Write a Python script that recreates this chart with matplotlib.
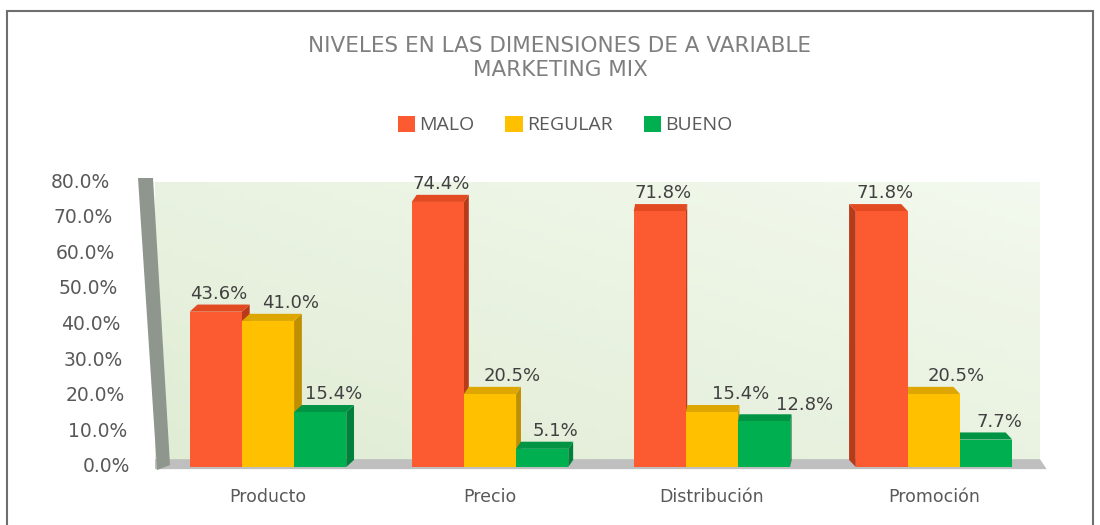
import matplotlib
matplotlib.use("Agg")
import matplotlib.pyplot as plt
import matplotlib.transforms as mtransforms
from matplotlib.patches import Polygon, Rectangle, Patch
import numpy as np

categories = ["Producto", "Precio", "Distribución", "Promoción"]
series_names = ["MALO", "REGULAR", "BUENO"]
malo = [0.436, 0.744, 0.718, 0.718]
regular = [0.410, 0.205, 0.154, 0.205]
bueno = [0.154, 0.051, 0.128, 0.077]
yticks = [0.0, 0.1, 0.2, 0.3, 0.4, 0.5, 0.6, 0.7, 0.8]
title = "NIVELES EN LAS DIMENSIONES DE A VARIABLE\nMARKETING MIX"

front = ["#FC5A30", "#FFC000", "#00B050"]
side = ["#B83A18", "#C08F00", "#00803A"]
top = ["#E24A22", "#DDA600", "#009444"]

W, H = 1100, 525
fig = plt.figure(figsize=(11, 5.25), dpi=100)
fig.patch.set_facecolor("white")

def fx(px):
    return px / W

def fy(py):
    return 1 - py / H

ax_left, ax_right = 155, 1040
y0_px, y80_px = 467, 182
ax = fig.add_axes([fx(ax_left), fy(y0_px), fx(ax_right - ax_left), (y0_px - y80_px) / H])
units = (ax_right - ax_left) / 222.0
x0 = -(268 - ax_left) / 222.0
ax.set_xlim(x0, x0 + units)
ax.set_ylim(0, 0.8)
for s in ax.spines.values():
    s.set_visible(False)
ax.set_xticks([])
ax.set_yticks([])

# back wall gradient
grad = np.zeros((50, 50, 3))
c1 = np.array([0xE0, 0xEC, 0xD4]) / 255.0
c2 = np.array([0xF3, 0xF9, 0xEE]) / 255.0
for i in range(50):
    for j in range(50):
        t = 0.5 * (j / 49) + 0.5 * (1 - i / 49)
        grad[i, j] = c1 * (1 - t) + c2 * t
ax.imshow(grad, extent=[0, 1, 0, 1], transform=ax.transAxes, aspect="auto", zorder=0)

# floor
xl = ax.get_xlim()
floor = Polygon([[xl[0], -0.006], [xl[1] + 0.03, -0.006], [xl[1], 0.022], [xl[0], 0.022]],
                closed=True, facecolor="#BFBFBF", edgecolor="none", zorder=1, clip_on=False)
ax.add_patch(floor)

# left wall (figure coords)
wall = Polygon([[fx(138), fy(178)], [fx(153), fy(178)], [fx(170), fy(465)], [fx(157), fy(470)]],
               closed=True, transform=fig.transFigure, facecolor="#8E968E", edgecolor="none", zorder=5)
fig.patches.append(wall)

# bars with pseudo-3D faces
bw = 0.235
offsets = [-bw, 0.0, bw]
dxs = [0.035, 0.022, 0.006, -0.03]
dy = 0.02
label_dx = [0.015, 0.10, 0.06]
label_nudge = {(1, 2): (0.03, 0.0), (2, 2): (0.12, -0.004)}
data = [malo, regular, bueno]
z = 3
for ci in range(len(categories)):
    order = [0, 1, 2] if dxs[ci] >= 0 else [2, 1, 0]
    for si in order:
        v = data[si][ci]
        xc = ci + offsets[si]
        xa, xb = xc - bw / 2, xc + bw / 2
        d = dxs[ci]
        edge = xb if d >= 0 else xa
        sidep = Polygon([[edge, 0], [edge, v], [edge + d, v + dy], [edge + d, dy]],
                        closed=True, facecolor=side[si], edgecolor="none", zorder=z)
        topp = Polygon([[xa, v], [xb, v], [xb + d, v + dy], [xa + d, v + dy]],
                       closed=True, facecolor=top[si], edgecolor="none", zorder=z)
        ax.add_patch(sidep)
        ax.add_patch(topp)
        ax.bar(xc, v, width=bw, color=front[si], zorder=z + 0.5, linewidth=0)
        z += 1

for si in range(3):
    for ci in range(len(categories)):
        v = data[si][ci]
        nx, ny = label_nudge.get((si, ci), (0.0, 0.0))
        ax.text(ci + offsets[si] + label_dx[si] + nx, v + 0.05 + ny, f"{v*100:.1f}%",
                ha="center", va="center", fontsize=13, color="#404040",
                family="DejaVu Sans", zorder=50)

# slanted y tick labels
for v in yticks:
    px_right = 110 + (0.8 - v) / 0.8 * 20
    shift = (px_right - ax_left) / 100.0
    tr = ax.get_yaxis_transform() + mtransforms.ScaledTranslation(shift, 0, fig.dpi_scale_trans)
    ax.text(0, v, f"{v*100:.1f}%", transform=tr, ha="right", va="center",
            fontsize=13.5, color="#595959", family="DejaVu Sans", clip_on=False)

# category labels
for ci, c in enumerate(categories):
    ax.text(ci, -0.085, c, ha="center", va="center", fontsize=12.5,
            color="#595959", family="DejaVu Sans", clip_on=False)

# title
fig.text(fx(560), fy(58), title, ha="center", va="center", fontsize=15.5,
         color="#7F7F7F", family="DejaVu Sans", linespacing=1.3)

# legend
handles = [Patch(facecolor=front[i], edgecolor="none") for i in range(3)]
fig.legend(handles, series_names, loc="center", bbox_to_anchor=(fx(565), fy(125)),
           ncol=3, frameon=False, handlelength=0.9, handleheight=0.9,
           handletextpad=0.2, columnspacing=1.6, labelcolor="#595959",
           prop={"family": "Open Sans", "size": 14})

# outer frame
frame = Rectangle((fx(7), -0.02), fx(1093 - 7), fy(11) + 0.02, transform=fig.transFigure,
                  facecolor="none", edgecolor="#6E6E6E", linewidth=1.5, zorder=10)
fig.patches.append(frame)

fig.savefig("out.png", dpi=100)
